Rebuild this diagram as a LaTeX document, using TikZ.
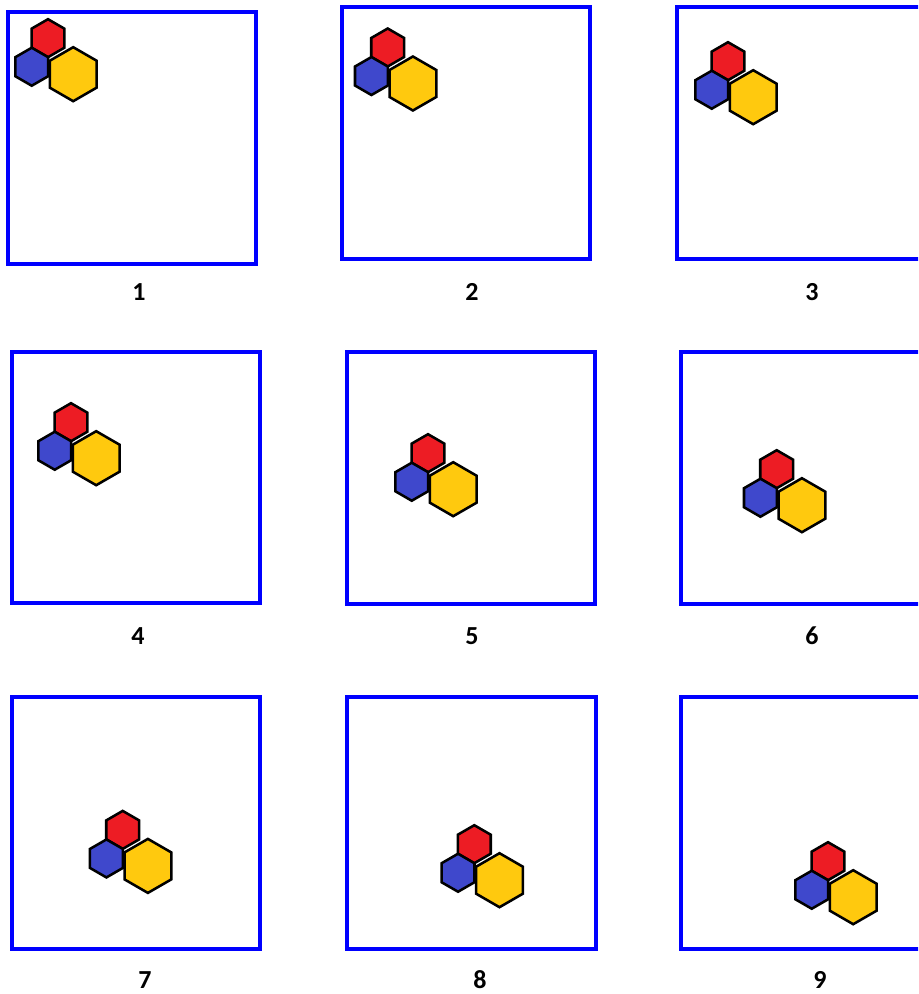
\documentclass[tikz,border=0pt]{standalone}
\usepackage{fontspec}
\setmainfont{Carlito}
\usetikzlibrary{shapes.geometric}
\definecolor{hexred}{HTML}{ED1C24}
\definecolor{hexblue}{HTML}{3F48CC}
\definecolor{hexyellow}{HTML}{FFC90E}
\definecolor{framebl}{HTML}{0000FF}
\tikzset{
  hexbase/.style={regular polygon, regular polygon sides=6, shape border rotate=30,
    draw=black, line width=1.9pt, inner sep=0pt, outer sep=0pt, line join=miter},
  hexsmall/.style={hexbase, minimum size=28.5pt},
  hexbig/.style={hexbase, minimum size=40.5pt},
  panel/.style={draw=framebl, line width=2.3pt},
  lbl/.style={font=\fontsize{19.5}{22}\selectfont\bfseries, inner sep=0pt}
}
\begin{document}
\begin{tikzpicture}[x=0.75pt,y=-0.75pt]
\clip (0,0) rectangle (918,994);
\fill[white] (0,0) rectangle (918,994);
% panels
\draw[panel] (8,12) rectangle (256,264);
\draw[panel] (342,7) rectangle (590,259);
\draw[panel] (677,7) rectangle (930,259);
\draw[panel] (12,352) rectangle (260,603);
\draw[panel] (347,352) rectangle (595,604);
\draw[panel] (681,352) rectangle (930,604);
\draw[panel] (12,697) rectangle (260,949);
\draw[panel] (347,697) rectangle (596,949);
\draw[panel] (681,697) rectangle (930,949);
% hexagon groups
\foreach \n/\cx/\cy in {1/48/38.2, 2/387.7/47.5, 3/728/61.2, 4/71/422.2, 5/428/453.2,
  6/776.7/469.2, 7/122.7/829.9, 8/474.3/844.2, 9/828/861.2}{
  \node[hexsmall, fill=hexred] (r\n) at (\cx,\cy) {};
  \node[hexsmall, fill=hexblue] (b\n) at ([xshift=-12.2pt,yshift=-21.4pt]r\n.center) {};
  \node[hexbig, fill=hexyellow] (y\n) at ([xshift=18.9pt,yshift=-27pt]r\n.center) {};
}
% labels
\node[lbl] (l1) at (139,292) {1};
\node[lbl] (l2) at (472,292) {2};
\node[lbl] (l3) at (812,292) {3};
\node[lbl] (l4) at (138,636) {4};
\node[lbl] (l5) at (472,636) {5};
\node[lbl] (l6) at (812,636) {6};
\node[lbl] (l7) at (145,980) {7};
\node[lbl] (l8) at (480,980) {8};
\node[lbl] (l9) at (820,980) {9};
\end{tikzpicture}
\end{document}
